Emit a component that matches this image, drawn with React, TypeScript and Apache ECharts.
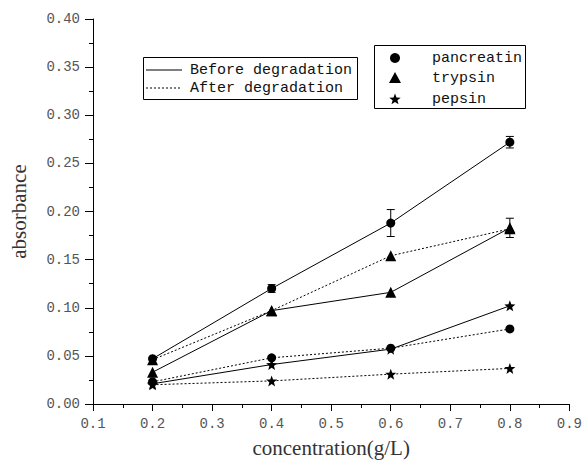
import React, { useEffect, useRef } from "react";
import * as echarts from "echarts";

const concentrations = [0.2, 0.4, 0.6, 0.8];
const pancreatinBefore = [0.047, 0.12, 0.188, 0.272];
const trypsinBefore = [0.033, 0.097, 0.116, 0.183];
const pepsinBefore = [0.021, 0.041, 0.057, 0.102];
const pancreatinAfter = [0.023, 0.048, 0.058, 0.078];
const trypsinAfter = [0.046, 0.097, 0.154, 0.182];
const pepsinAfter = [0.02, 0.024, 0.031, 0.037];
const pancreatinBeforeErr = [0.002, 0.004, 0.014, 0.006];
const trypsinBeforeErr = [0.002, 0.002, 0.002, 0.01];
const xTicks = [0.1, 0.2, 0.3, 0.4, 0.5, 0.6, 0.7, 0.8, 0.9];
const yTicks = [0, 0.05, 0.1, 0.15, 0.2, 0.25, 0.3, 0.35, 0.4];
const lineLegend = ["Before degradation", "After degradation"];
const enzymeLegend = ["pancreatin", "trypsin", "pepsin"];

const STAR = "path://M1 0 L1.247 0.66 L1.951 0.691 L1.399 1.13 L1.588 1.809 L1 1.42 L0.412 1.809 L0.601 1.13 L0.049 0.691 L0.753 0.66 Z";

function starPoints(cx: number, cy: number, r: number) {
  const pts: number[][] = [];
  for (let k = 0; k < 10; k++) {
    const ang = ((-90 + k * 36) * Math.PI) / 180;
    const rr = k % 2 === 0 ? r : r * 0.42;
    pts.push([cx + rr * Math.cos(ang), cy + rr * Math.sin(ang)]);
  }
  return pts;
}

export default function App() {
  const ref = useRef<HTMLDivElement>(null);
  useEffect(() => {
    if (!ref.current) return;
    const chart = echarts.init(ref.current, null, { renderer: "svg" });
    const mono = "Liberation Mono";
    const pair = (arr: number[]) => concentrations.map((x, i) => [x, arr[i]]);
    const lineSeries = (name: string, arr: number[], symbol: string, size: number, dotted: boolean) => ({
      type: "line",
      name,
      data: pair(arr),
      symbol,
      symbolSize: size,
      showSymbol: true,
      itemStyle: { color: "#000" },
      lineStyle: { color: "#000", width: 1, type: dotted ? [2, 2] : "solid" },
      z: 3,
    });
    const errSeries = (vals: number[], errs: number[]) => ({
      type: "custom",
      data: concentrations
        .map((x, i) => [x, vals[i] - errs[i], vals[i] + errs[i]])
        .filter((d) => d[2] - d[1] > 0.0045),
      encode: { x: 0, y: [1, 2] },
      z: 2,
      renderItem: (params: any, api: any) => {
        const x = api.value(0);
        const a = api.coord([x, api.value(1)]);
        const b = api.coord([x, api.value(2)]);
        const w = 4;
        const style = { stroke: "#000", lineWidth: 1 };
        return {
          type: "group",
          children: [
            { type: "line", shape: { x1: a[0], y1: a[1], x2: b[0], y2: b[1] }, style },
            { type: "line", shape: { x1: a[0] - w, y1: a[1], x2: a[0] + w, y2: a[1] }, style },
            { type: "line", shape: { x1: b[0] - w, y1: b[1], x2: b[0] + w, y2: b[1] }, style },
          ],
        };
      },
    });

    const textStyle = { fill: "#111", font: `15px "${mono}"` };
    const graphic: any[] = [
      { type: "rect", shape: { x: 143.5, y: 57.5, width: 214, height: 42 }, style: { fill: "#fff", stroke: "#000", lineWidth: 1 }, z: 10 },
      { type: "line", shape: { x1: 146, y1: 70, x2: 182, y2: 70 }, style: { stroke: "#000", lineWidth: 1 }, z: 11 },
      { type: "line", shape: { x1: 146, y1: 88, x2: 182, y2: 88 }, style: { stroke: "#000", lineWidth: 1, lineDash: [2, 2] }, z: 11 },
      { type: "text", x: 190, y: 70, style: { ...textStyle, text: lineLegend[0], verticalAlign: "middle" }, z: 11 },
      { type: "text", x: 190, y: 88, style: { ...textStyle, text: lineLegend[1], verticalAlign: "middle" }, z: 11 },
      { type: "rect", shape: { x: 374.5, y: 45.5, width: 151, height: 63 }, style: { fill: "#fff", stroke: "#000", lineWidth: 1 }, z: 10 },
      { type: "circle", shape: { cx: 395, cy: 58, r: 5 }, style: { fill: "#000" }, z: 11 },
      { type: "polygon", shape: { points: [[395, 72], [401, 83], [389, 83]] }, style: { fill: "#000" }, z: 11 },
      { type: "polygon", shape: { points: starPoints(395, 99.5, 6) }, style: { fill: "#000" }, z: 11 },
      { type: "text", x: 432, y: 58, style: { ...textStyle, text: enzymeLegend[0], verticalAlign: "middle" }, z: 11 },
      { type: "text", x: 432, y: 78, style: { ...textStyle, text: enzymeLegend[1], verticalAlign: "middle" }, z: 11 },
      { type: "text", x: 432, y: 99, style: { ...textStyle, text: enzymeLegend[2], verticalAlign: "middle" }, z: 11 },
    ];

    chart.setOption({
      animation: false,
      backgroundColor: "#fff",
      grid: { left: 93, right: 14, top: 19, bottom: 57, containLabel: false },
      xAxis: {
        type: "value",
        min: xTicks[0],
        max: xTicks[xTicks.length - 1],
        interval: 0.1,
        name: "concentration(g/L)",
        nameLocation: "middle",
        nameGap: 33,
        nameTextStyle: { fontFamily: "Liberation Serif", fontSize: 21, color: "#333" },
        axisLine: { show: true, lineStyle: { color: "#000", width: 1 } },
        axisTick: { show: true, inside: false, length: 7, lineStyle: { color: "#000" } },
        minorTick: { show: true, splitNumber: 2, length: 4, lineStyle: { color: "#000" } },
        splitLine: { show: false },
        axisLabel: {
          margin: 13,
          fontFamily: mono,
          fontSize: 14,
          color: "#555",
          formatter: (v: number) => v.toFixed(1),
        },
      },
      yAxis: {
        type: "value",
        min: yTicks[0],
        max: yTicks[yTicks.length - 1],
        interval: 0.05,
        name: "absorbance",
        nameLocation: "middle",
        nameGap: 64,
        nameTextStyle: { fontFamily: "Liberation Serif", fontSize: 21, color: "#333" },
        axisLine: { show: true, lineStyle: { color: "#000", width: 1 } },
        axisTick: { show: true, inside: false, length: 8, lineStyle: { color: "#000" } },
        minorTick: { show: true, splitNumber: 2, length: 4, lineStyle: { color: "#000" } },
        splitLine: { show: false },
        axisLabel: {
          margin: 13,
          fontFamily: mono,
          fontSize: 14,
          color: "#555",
          formatter: (v: number) => v.toFixed(2),
        },
      },
      series: [
        errSeries(pancreatinBefore, pancreatinBeforeErr),
        errSeries(trypsinBefore, trypsinBeforeErr),
        lineSeries("pancreatin before", pancreatinBefore, "circle", 9, false),
        lineSeries("trypsin before", trypsinBefore, "triangle", 11, false),
        lineSeries("pepsin before", pepsinBefore, STAR, 11, false),
        lineSeries("pancreatin after", pancreatinAfter, "circle", 9, true),
        lineSeries("trypsin after", trypsinAfter, "triangle", 11, true),
        lineSeries("pepsin after", pepsinAfter, STAR, 11, true),
      ],
      graphic,
    });
    return () => chart.dispose();
  }, []);
  return <div ref={ref} style={{ position: "absolute", left: 0, top: 0, width: 585, height: 463 }} />;
}
